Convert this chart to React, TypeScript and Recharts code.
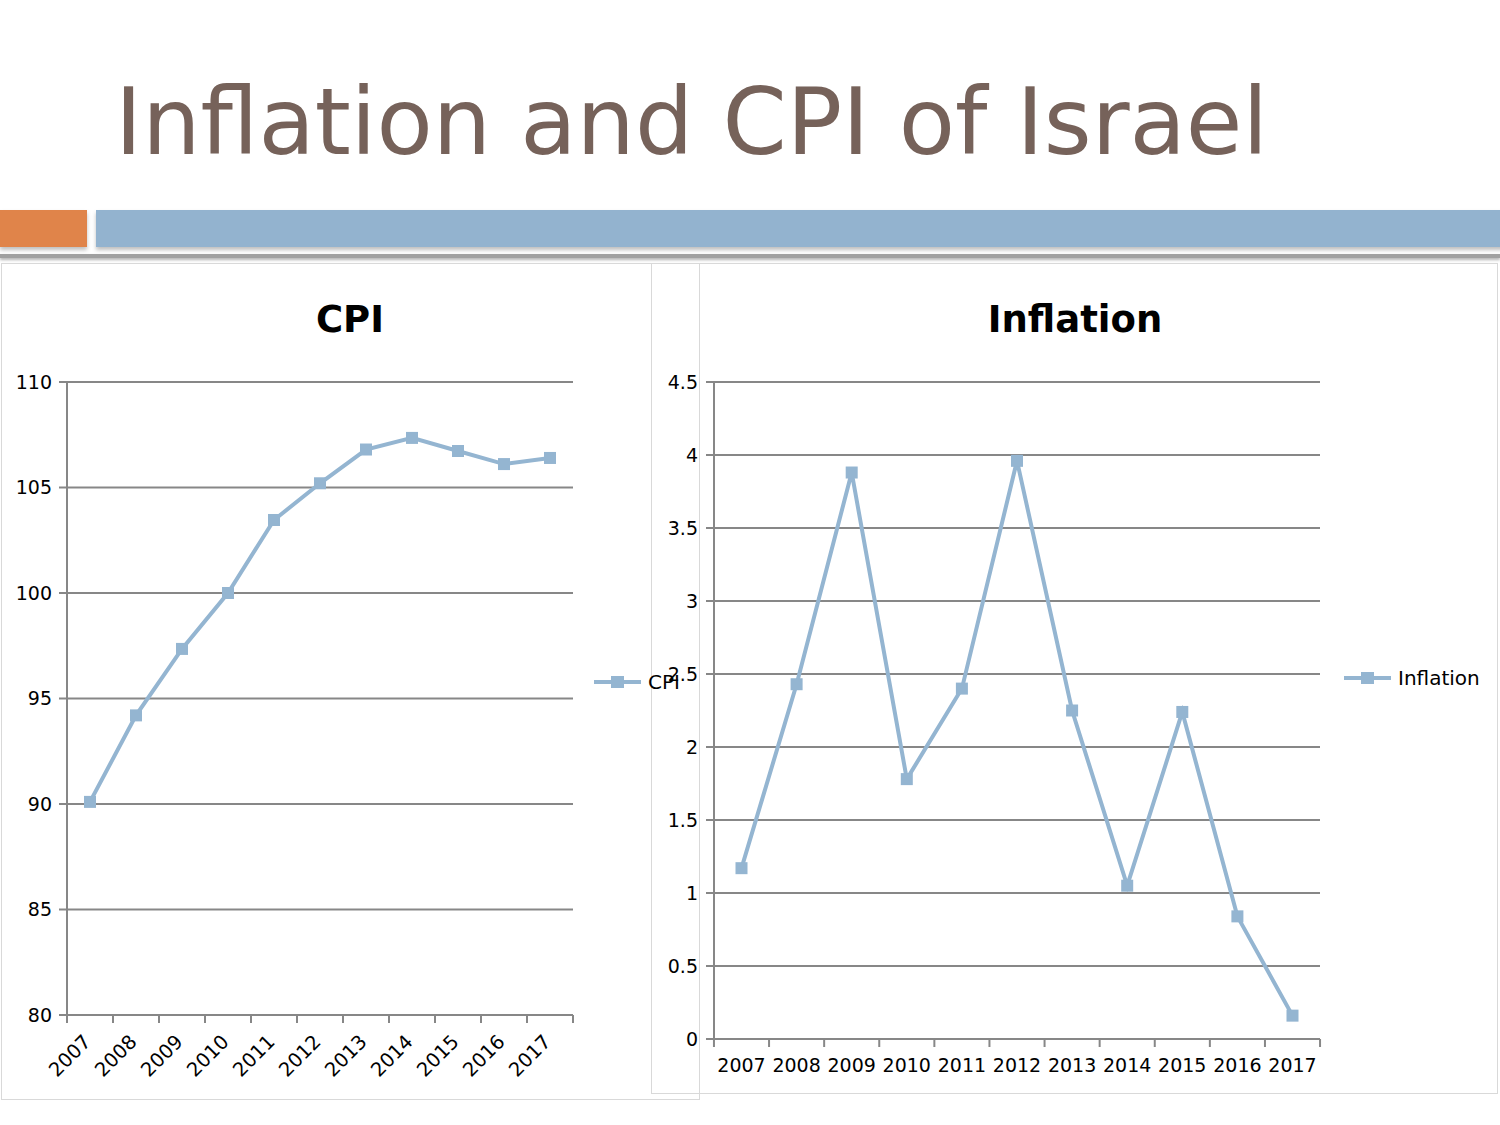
import React from "react";
import { LineChart, Line, XAxis, YAxis, CartesianGrid, Legend } from "recharts";

// values
const years = ["2007", "2008", "2009", "2010", "2011", "2012", "2013", "2014", "2015", "2016", "2017"];
const cpiValues = [90.1, 94.2, 97.35, 100.0, 103.46, 105.2, 106.8, 107.35, 106.73, 106.11, 106.4];
const inflationValues = [1.17, 2.43, 3.88, 1.78, 2.4, 3.96, 2.25, 1.05, 2.24, 0.84, 0.16];
const cpiTicks = [80, 85, 90, 95, 100, 105, 110];
const inflationTicks = [0, 0.5, 1, 1.5, 2, 2.5, 3, 3.5, 4, 4.5];

const data = years.map((year, i) => ({
  year,
  CPI: cpiValues[i],
  Inflation: inflationValues[i],
}));

const FONT = "'DejaVu Sans', Verdana, sans-serif";
const LINE_COLOR = "#94b5d1";
const AXIS_COLOR = "#878787";

const SquareDot = (props: any) => {
  const { cx, cy, index } = props;
  if (cx == null || cy == null) return <g key={index} />;
  return <rect key={index} x={cx - 6} y={cy - 6} width={12} height={12} fill={LINE_COLOR} />;
};

// Excel-style category ticks: marks on band edges, label in the middle
const BandTick = (props: any) => {
  const { x, y, payload, index, visibleTicksCount, band, rotated } = props;
  const half = band / 2;
  return (
    <g>
      <line x1={x - half} x2={x - half} y1={y} y2={y + 8} stroke={AXIS_COLOR} strokeWidth={2} />
      {index === visibleTicksCount - 1 && (
        <line x1={x + half} x2={x + half} y1={y} y2={y + 8} stroke={AXIS_COLOR} strokeWidth={2} />
      )}
      {rotated ? (
        <text
          x={x + 2}
          y={y + 28}
          textAnchor="end"
          transform={`rotate(-45 ${x + 2} ${y + 28})`}
          fontSize={19.5}
          fill="#000"
          fontFamily={FONT}
        >
          {payload.value}
        </text>
      ) : (
        <text x={x} y={y + 33} textAnchor="middle" fontSize={19} fill="#000" fontFamily={FONT}>
          {payload.value}
        </text>
      )}
    </g>
  );
};

const LegendContent = (props: any) => {
  const { payload } = props;
  return (
    <div>
      {(payload || []).map((item: any) => (
        <div
          key={item.value}
          style={{ display: "flex", alignItems: "center", fontFamily: FONT, fontSize: 20, color: "#000" }}
        >
          <svg width={47} height={14}>
            <line x1={0} x2={47} y1={7} y2={7} stroke={LINE_COLOR} strokeWidth={4} />
            <rect x={17} y={1} width={13} height={12} fill={LINE_COLOR} />
          </svg>
          <span style={{ marginLeft: 7, lineHeight: "24px" }}>{item.value}</span>
        </div>
      ))}
    </div>
  );
};

const panel: React.CSSProperties = {
  position: "absolute",
  border: "1px solid #d9d9d9",
  boxSizing: "border-box",
};

const chartTitle: React.CSSProperties = {
  position: "absolute",
  fontFamily: FONT,
  fontWeight: "bold",
  fontSize: 37,
  color: "#000",
  textAlign: "center",
  lineHeight: "44px",
};

const App = () => {
  return (
    <div
      style={{
        position: "absolute",
        left: 0,
        top: 0,
        width: 1500,
        height: 1125,
        overflow: "hidden",
        background: "#fff",
      }}
    >
      <div
        style={{
          position: "absolute",
          left: 115,
          top: 63,
          fontFamily: FONT,
          fontSize: 92,
          color: "#76625a",
          whiteSpace: "nowrap",
          lineHeight: "120px",
        }}
      >
        Inflation and CPI of Israel
      </div>

      <div
        style={{
          position: "absolute",
          left: 0,
          top: 210,
          width: 87,
          height: 37,
          background: "#e0844a",
          boxShadow: "0 3px 4px rgba(0,0,0,0.25)",
        }}
      />
      <div
        style={{
          position: "absolute",
          left: 96,
          top: 210,
          width: 1410,
          height: 37,
          background: "#93b3cf",
          boxShadow: "0 3px 4px rgba(0,0,0,0.25)",
        }}
      />
      <div
        style={{
          position: "absolute",
          left: 0,
          top: 254,
          width: 1500,
          height: 4,
          background: "#a0a0a0",
          boxShadow: "0 2px 3px rgba(0,0,0,0.3)",
        }}
      />

      <div style={{ ...panel, left: 1, top: 263, width: 699, height: 837 }} />
      <div style={{ ...panel, left: 651, top: 263, width: 847, height: 831 }} />

      <div style={{ ...chartTitle, left: 250, top: 298, width: 200 }}>CPI</div>
      <div style={{ ...chartTitle, left: 925, top: 298, width: 300 }}>Inflation</div>

      <div style={{ position: "absolute", left: 0, top: 263 }}>
        <LineChart width={700} height={836} data={data} margin={{ top: 119, right: 127, bottom: 0, left: 0 }}>
          <CartesianGrid vertical={false} stroke={AXIS_COLOR} strokeWidth={2} />
          <XAxis
            dataKey="year"
            height={84}
            padding={{ left: 23, right: 23 }}
            axisLine={{ stroke: AXIS_COLOR, strokeWidth: 2 }}
            tickLine={false}
            tickSize={0}
            tickMargin={0}
            interval={0}
            tick={(p: any) => <BandTick {...p} band={46} rotated />}
          />
          <YAxis
            width={67}
            domain={[80, 110]}
            ticks={cpiTicks}
            interval={0}
            axisLine={{ stroke: AXIS_COLOR, strokeWidth: 2 }}
            tickLine={{ stroke: AXIS_COLOR, strokeWidth: 2 }}
            tickSize={8}
            tickMargin={7}
            tick={{ fontSize: 19, fill: "#000", fontFamily: FONT }}
          />
          <Legend
            layout="vertical"
            align="center"
            verticalAlign="middle"
            wrapperStyle={{ left: 594, top: 407, width: 120 }}
            content={<LegendContent />}
          />
          <Line
            type="linear"
            dataKey="CPI"
            stroke={LINE_COLOR}
            strokeWidth={4}
            dot={SquareDot}
            activeDot={false}
            isAnimationActive={false}
          />
        </LineChart>
      </div>

      <div style={{ position: "absolute", left: 651, top: 263 }}>
        <LineChart width={849} height={830} data={data} margin={{ top: 119, right: 180, bottom: 0, left: 0 }}>
          <CartesianGrid vertical={false} stroke={AXIS_COLOR} strokeWidth={2} />
          <XAxis
            dataKey="year"
            height={54}
            padding={{ left: 27.5, right: 27.5 }}
            axisLine={{ stroke: AXIS_COLOR, strokeWidth: 2 }}
            tickLine={false}
            tickSize={0}
            tickMargin={0}
            interval={0}
            tick={(p: any) => <BandTick {...p} band={606 / 11} />}
          />
          <YAxis
            width={63}
            domain={[0, 4.5]}
            ticks={inflationTicks}
            interval={0}
            axisLine={{ stroke: AXIS_COLOR, strokeWidth: 2 }}
            tickLine={{ stroke: AXIS_COLOR, strokeWidth: 2 }}
            tickSize={8}
            tickMargin={8}
            tick={{ fontSize: 19, fill: "#000", fontFamily: FONT }}
          />
          <Legend
            layout="vertical"
            align="center"
            verticalAlign="middle"
            wrapperStyle={{ left: 693, top: 403, width: 160 }}
            content={<LegendContent />}
          />
          <Line
            type="linear"
            dataKey="Inflation"
            stroke={LINE_COLOR}
            strokeWidth={4}
            dot={SquareDot}
            activeDot={false}
            isAnimationActive={false}
          />
        </LineChart>
      </div>
    </div>
  );
};

export default App;
